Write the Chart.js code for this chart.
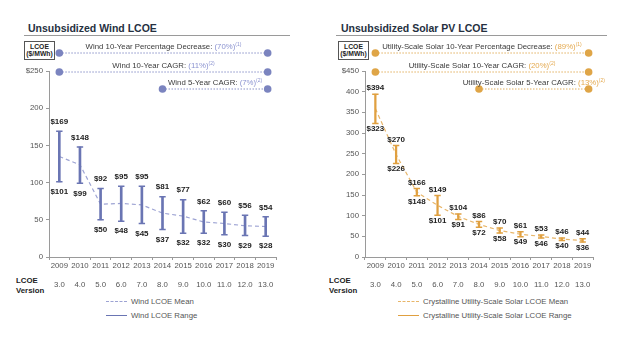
<!DOCTYPE html>
<html><head><meta charset="utf-8">
<script src="https://cdn.jsdelivr.net/npm/chart.js@4"></script>
<style>
html,body{margin:0;padding:0;background:#fff;}
body{width:631px;height:337px;position:relative;overflow:hidden;font-family:"Liberation Sans",Arial,sans-serif;}
.title{position:absolute;top:22px;font-weight:bold;font-size:10.5px;color:#25303f;white-space:nowrap;}
.rule{position:absolute;top:35px;height:0;border-top:1.2px solid #9a9a9a;}
.box{position:absolute;top:41px;width:29px;height:16px;border:1px solid #555;font-weight:bold;font-size:6.8px;line-height:7.5px;text-align:center;color:#222;padding-top:0.5px;}
.ver{position:absolute;top:276px;font-weight:bold;font-size:7.8px;line-height:10px;color:#222;}
.leg{position:absolute;font-size:7.8px;color:#555;white-space:nowrap;}
.leg div{height:14px;display:flex;align-items:center;color:#555;}
.leg span.t{color:#555;}
.sw{display:inline-block;width:21px;height:0;margin-right:4px;}
canvas{position:absolute;top:0;}
</style></head>
<body>
<div class="title" style="left:28px">Unsubsidized Wind LCOE</div>
<div class="rule" style="left:24px;width:266px"></div>
<div class="box" style="left:24px">LCOE<br>($/MWh)</div>
<div class="ver" style="left:16px">LCOE<br>Version</div>
<div class="leg" id="legW" style="left:106px;top:294px"></div>

<div class="title" style="left:341px">Unsubsidized Solar PV LCOE</div>
<div class="rule" style="left:336px;width:271px"></div>
<div class="box" style="left:338px">LCOE<br>($/MWh)</div>
<div class="ver" style="left:329px">LCOE<br>Version</div>
<div class="leg" id="legS" style="left:398px;top:294px"></div>

<canvas id="cw" width="315" height="337" style="left:0;width:315px;height:337px"></canvas>
<canvas id="cs" width="316" height="337" style="left:315px;width:316px;height:337px"></canvas>

<script>
// ---------- data ----------
const years = ['2009','2010','2011','2012','2013','2014','2015','2016','2017','2018','2019'];
const versions = ['3.0','4.0','5.0','6.0','7.0','8.0','9.0','10.0','11.0','12.0','13.0'];

const windHigh = [169,148,92,95,95,81,77,62,60,56,54];
const windLow  = [101,99,50,48,45,37,32,32,30,29,28];
const windMean = [135,124,71,72,70,59,55,47,45,42,41];

const solarHigh = [394,270,166,149,104,86,70,61,53,46,44];
const solarLow  = [323,226,148,101,91,72,58,49,46,40,36];
const solarMean = [359,248,157,125,98,79,64,55,50,43,40];

const windNoteText  = ['Wind 10-Year Percentage Decrease:','Wind 10-Year CAGR:','Wind 5-Year CAGR:'];
const windNoteValue = ['(70%)','(11%)','(7%)'];
const windNoteSup   = ['(1)','(2)','(2)'];
const windNoteStart = ['2009','2009','2014'];
const windNoteEnd   = ['2019','2019','2019'];

const solarNoteText  = ['Utility-Scale Solar 10-Year Percentage Decrease:','Utility-Scale Solar 10-Year CAGR:','Utility-Scale Solar 5-Year CAGR:'];
const solarNoteValue = ['(89%)','(20%)','(13%)'];
const solarNoteSup   = ['(1)','(2)','(2)'];
const solarNoteStart = ['2009','2009','2014'];
const solarNoteEnd   = ['2019','2019','2019'];

const windMax = 250, solarMax = 450, yStep = 50;
const windLegend = ['Wind LCOE Mean','Wind LCOE Range'];
const solarLegend = ['Crystalline Utility-Scale Solar LCOE Mean','Crystalline Utility-Scale Solar LCOE Range'];

// ---------- styling ----------
const FONT = '"Liberation Sans", Arial, sans-serif';
const AXIS = '#9a9a9a';
const TICK = '#555';

function legend(el, names, meanColor, rangeColor){
  el.innerHTML =
    '<div><span class="sw" style="border-top:1.5px dashed '+meanColor+'"></span><span class="t">'+names[0]+'</span></div>'+
    '<div><span class="sw" style="border-top:1.5px solid '+rangeColor+'"></span><span class="t">'+names[1]+'</span></div>';
}

const labelPlugin = {
  id:'rangeLabels',
  afterDatasetsDraw(chart, args, o){
    const {ctx, scales:{x,y}} = chart;
    ctx.save();
    ctx.font = 'bold 8px '+FONT;
    ctx.fillStyle = '#222';
    ctx.textAlign = 'center';
    ctx.textBaseline = 'middle';
    o.high.forEach((h,i)=>{
      const px = x.getPixelForValue(i);
      ctx.fillText('$'+h, px, y.getPixelForValue(h)-o.offTop);
      ctx.fillText('$'+o.low[i], px, y.getPixelForValue(o.low[i])+o.offBot);
    });
    ctx.restore();
  }
};

const notesPlugin = {
  id:'notes',
  afterDraw(chart, args, o){
    const {ctx, scales:{x}} = chart;
    ctx.save();
    o.text.forEach((t,i)=>{
      const x0 = x.getPixelForValue(o.categories.indexOf(o.start[i]));
      const x1 = x.getPixelForValue(o.categories.indexOf(o.end[i])) + o.endShift;
      const yy = o.rows[i];
      ctx.strokeStyle = o.lineColor; ctx.lineWidth = 1; ctx.setLineDash([1.5,1.5]);
      ctx.beginPath(); ctx.moveTo(x0,yy); ctx.lineTo(x1,yy); ctx.stroke();
      ctx.setLineDash([]);
      ctx.fillStyle = o.dotColor;
      [x0,x1].forEach(px=>{ctx.beginPath(); ctx.arc(px,yy,3.8,0,Math.PI*2); ctx.fill();});
      const f1 = '7.8px '+FONT, f2 = '5px '+FONT;
      ctx.font = f1;
      const w1 = ctx.measureText(t+' ').width, w2 = ctx.measureText(o.value[i]).width;
      ctx.font = f2; const w3 = ctx.measureText(o.sup[i]).width;
      let sx = (x0+x1)/2 - (w1+w2+w3)/2;
      const ty = yy - 6;
      ctx.textBaseline = 'middle'; ctx.textAlign='left';
      ctx.font = f1; ctx.fillStyle = '#3a3a3a'; ctx.fillText(t+' ', sx, ty);
      ctx.fillStyle = o.valueColor; ctx.fillText(o.value[i], sx+w1, ty);
      ctx.font = f2; ctx.fillText(o.sup[i], sx+w1+w2, ty-2.5);
    });
    ctx.restore();
  }
};

function makeChart(id, cfg){
  return new Chart(document.getElementById(id), {
    type:'bar',
    data:{
      labels: years.map((yv,i)=>[yv, versions[i]]),
      datasets:[
        {type:'line', label:cfg.legend[0], data:cfg.mean, borderColor:cfg.meanColor, borderWidth:1.2,
         borderDash:[4,3], pointRadius:0, fill:false, order:3},
        {type:'bar', label:cfg.legend[1], data:cfg.low.map((l,i)=>[l,cfg.high[i]]),
         backgroundColor:cfg.rangeColor, barThickness:cfg.barW, order:2},
        {type:'line', label:'high', data:cfg.high, showLine:false, pointStyle:'line', pointRadius:3.2,
         borderColor:cfg.rangeColor, pointBorderWidth:1.5, order:1},
        {type:'line', label:'low', data:cfg.low, showLine:false, pointStyle:'line', pointRadius:3.2,
         borderColor:cfg.rangeColor, pointBorderWidth:1.5, order:1}
      ]
    },
    options:{
      responsive:false, animation:false,
      layout:{padding:{top:71, left:0, right:cfg.padRight, bottom:0}},
      plugins:{
        legend:{display:false}, tooltip:{enabled:false},
        rangeLabels:{high:cfg.high, low:cfg.low, offTop:cfg.offTop, offBot:cfg.offBot},
        notes:{text:cfg.noteText, value:cfg.noteValue, sup:cfg.noteSup, start:cfg.noteStart, end:cfg.noteEnd,
               categories:years, rows:[53,72,89], lineColor:cfg.dotLine, dotColor:cfg.dot, valueColor:cfg.valueColor,
               endShift:cfg.endShift}
      },
      scales:{
        x:{
          offset:true,
          grid:{display:true, drawOnChartArea:false, offset:true, tickLength:3, color:AXIS},
          border:{color:AXIS, width:1},
          ticks:{color:TICK, font:{family:FONT, size:7.8, lineHeight:'18.5px'}, padding:-3, maxRotation:0, autoSkip:false},
          afterFit(s){ s.height = 80; }
        },
        y:{
          min:0, max:cfg.max,
          grid:{display:true, drawOnChartArea:false, tickLength:3, color:AXIS},
          border:{color:AXIS, width:1},
          ticks:{stepSize:yStep, color:TICK, font:{family:FONT, size:7.8}, padding:3,
                 callback:(v)=> v===cfg.max ? '$'+v : v},
          afterFit(s){ s.width = cfg.left; }
        }
      }
    },
    plugins:[labelPlugin, notesPlugin]
  });
}

const windRange = '#6a75b3', windMeanC = '#9da3d3';
const solarRange = '#e0a040', solarMeanC = '#e8b66a';

makeChart('cw', {
  high:windHigh, low:windLow, mean:windMean, max:windMax,
  left:49, padRight:39, barW:2, offTop:9.5, offBot:10,
  rangeColor:windRange, meanColor:windMeanC, legend:windLegend,
  noteText:windNoteText, noteValue:windNoteValue, noteSup:windNoteSup, noteStart:windNoteStart, noteEnd:windNoteEnd,
  dotLine:'#8a92c8', dot:'#7b84bf', valueColor:'#8b93d0', endShift:2
});
makeChart('cs', {
  high:solarHigh, low:solarLow, mean:solarMean, max:solarMax,
  left:50, padRight:38, barW:1.6, offTop:6, offBot:5.5,
  rangeColor:solarRange, meanColor:solarMeanC, legend:solarLegend,
  noteText:solarNoteText, noteValue:solarNoteValue, noteSup:solarNoteSup, noteStart:solarNoteStart, noteEnd:solarNoteEnd,
  dotLine:'#e2b060', dot:'#dfa547', valueColor:'#e4a94f', endShift:6
});

legend(document.getElementById('legW'), windLegend, windMeanC, windRange);
legend(document.getElementById('legS'), solarLegend, solarMeanC, solarRange);
</script>
</body></html>
